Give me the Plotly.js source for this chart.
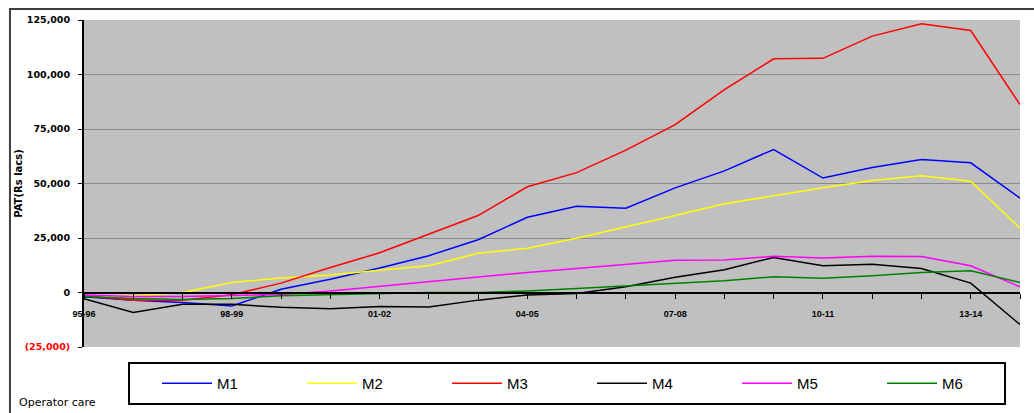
<!DOCTYPE html>
<html>
<head>
<meta charset="utf-8">
<script src="https://cdn.plot.ly/plotly-3.0.1.min.js"></script>
<style>html,body{margin:0;padding:0;background:#fff;}#chart{width:1034px;height:413px;}</style>
</head>
<body>
<div id="chart"></div>
<script>
var categories = ["95-96","96-97","97-98","98-99","99-00","00-01","01-02","02-03","03-04","04-05",
                  "05-06","06-07","07-08","08-09","09-10","10-11","11-12","12-13","13-14","14-15"];
var seriesNames = ["M1","M2","M3","M4","M5","M6"];
var m1 = [-2000,-3500,-4600,-6200,1500,6100,11200,16900,24200,34500,39600,38700,48000,55800,65600,52500,57300,61000,59500,43300];
var m2 = [-1500,-1600,0,4600,6600,8000,10200,12300,18000,20300,24900,30000,35300,40700,44500,48000,51400,53500,51000,29500];
var m3 = [-1500,-3500,-3500,-1000,4300,11500,18200,26900,35300,48500,55000,65300,77000,93100,107200,107400,117600,123300,120200,86200];
var m4 = [-2800,-9200,-5400,-5400,-6800,-7400,-6400,-6600,-3500,-1100,-500,2600,7000,10400,16100,12300,13000,11000,4300,-14700];
var m5 = [-1100,-1800,-1800,-1500,-900,700,2800,4900,7200,9200,11000,13000,14800,14900,16600,15800,16600,16500,12300,2600];
var m6 = [-1800,-2800,-3200,-2800,-1500,-1100,-600,0,0,700,1800,3000,4500,5400,7200,6500,7700,9200,10000,4600];
var seriesColors = ["#0000FF","#FFFF00","#FF0000","#000000","#FF00FF","#008000"];
var yTickVals = [-25000,0,25000,50000,75000,100000,125000];
var yTickText = ['<span style="color:#FF0000">(25,000)</span>','0','25,000','50,000','75,000','100,000','125,000'];
var xLabelEvery = 3;
var yTitle = "PAT(Rs lacs)";
var footNote = "Operator care";

var allSeries = [m1,m2,m3,m4,m5,m6];
var traces = allSeries.map(function(vals,i){
  return {type:'scatter',mode:'lines',name:seriesNames[i],x:categories,y:vals,
          line:{color:seriesColors[i],width:1.5},hoverinfo:'skip'};
});
var xTickText = categories.map(function(c,i){return i % xLabelEvery === 0 ? c : '';});

var yMin = -25000, yMax = 125000;
var layout = {
  width:1034,height:413,
  margin:{l:84,r:14,t:20,b:66,autoexpand:false},
  paper_bgcolor:'#ffffff',plot_bgcolor:'#C0C0C0',
  showlegend:true,
  xaxis:{type:'category',range:[0,categories.length-1],anchor:'free',
         position:(0-yMin)/(yMax-yMin),
         showline:true,linecolor:'#000',linewidth:2,
         ticks:'outside',ticklen:5,tickwidth:1,tickcolor:'#000',
         tickmode:'array',tickvals:categories,ticktext:xTickText,tickangle:0,
         ticklabelstandoff:8,
         tickfont:{family:'Liberation Sans, Arial, sans-serif',size:9,color:'#000',weight:'bold'},
         showgrid:false,zeroline:false,fixedrange:true},
  yaxis:{range:[yMin,yMax],domain:[0,1],
         showline:true,linecolor:'#000',linewidth:2,
         ticks:'outside',ticklen:4,tickwidth:1,tickcolor:'#000',
         tickmode:'array',tickvals:yTickVals,ticktext:yTickText,
         ticklabelstandoff:6,
         tickfont:{family:'DejaVu Sans, sans-serif',size:9.5,color:'#000',weight:'bold'},
         showgrid:true,gridcolor:'#8a8a8a',gridwidth:1,zeroline:false,fixedrange:true,
         title:{text:yTitle,standoff:0,font:{family:'DejaVu Sans, sans-serif',size:10,color:'#000',weight:'bold'}}},
  legend:{orientation:'h',x:0.078,xanchor:'left',y:-0.112,yanchor:'middle',
          bgcolor:'rgba(0,0,0,0)',borderwidth:0,itemwidth:50,
          entrywidth:80,entrywidthmode:'pixels',
          font:{family:'Liberation Sans, Arial, sans-serif',size:15,color:'#000'}},
  shapes:[
    {type:'rect',xref:'paper',yref:'paper',x0:-0.0791,x1:1.2,y0:-0.5,y1:1.0336,
     line:{color:'#404040',width:2},fillcolor:'rgba(0,0,0,0)',layer:'below'},
    {type:'rect',xref:'paper',yref:'paper',x0:0.0481,x1:0.984,y0:-0.1743,y1:-0.0489,
     line:{color:'#000',width:2},fillcolor:'#ffffff',layer:'above'}
  ],
  annotations:[
    {text:footNote,xref:'paper',yref:'paper',x:-0.0716,y:-0.17,xanchor:'left',yanchor:'middle',
     showarrow:false,font:{family:'DejaVu Sans, sans-serif',size:11,color:'#000'}}
  ]
};
Plotly.newPlot('chart',traces,layout,{displayModeBar:false,staticPlot:true});
</script>
</body>
</html>
